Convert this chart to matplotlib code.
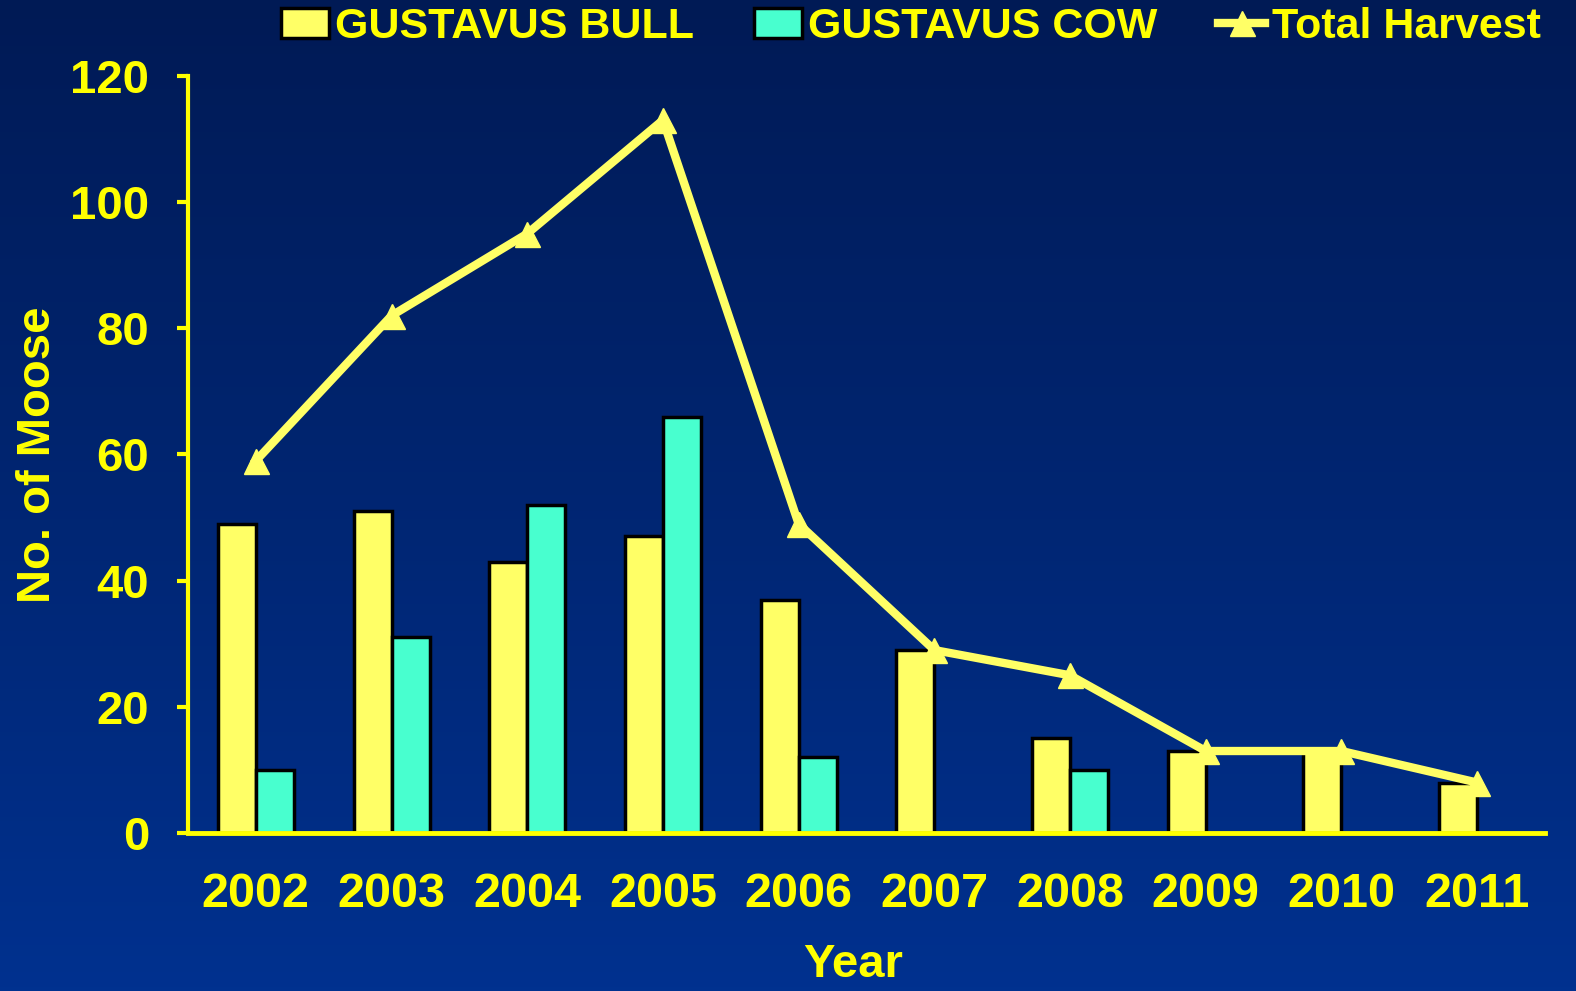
import numpy as np
import matplotlib
matplotlib.use("Agg")
import matplotlib.pyplot as plt
from matplotlib.colors import LinearSegmentedColormap

years = ["2002", "2003", "2004", "2005", "2006", "2007", "2008", "2009", "2010", "2011"]
bull = [49, 51, 43, 47, 37, 29, 15, 13, 13, 8]
cow = [10, 31, 52, 66, 12, 0, 10, 0, 0, 0]
total = [59, 82, 95, 113, 49, 29, 25, 13, 13, 8]

yellow = "#FFFF00"
bull_color = "#FFFF66"
cow_color = "#48FFCF"

plt.rcParams["font.family"] = ["Liberation Sans", "DejaVu Sans"]
plt.rcParams["font.weight"] = "bold"

fig = plt.figure(figsize=(15.76, 9.91), dpi=100)

# gradient background
bg = fig.add_axes([0, 0, 1, 1], zorder=-10)
cmap = LinearSegmentedColormap.from_list("bg", ["#001a55", "#00318f"])
grad = np.linspace(0, 1, 256).reshape(-1, 1)
bg.imshow(grad, aspect="auto", cmap=cmap, extent=[0, 1, 0, 1], origin="upper")
bg.axis("off")

ax = fig.add_axes([0.1193, 0.1594, 0.861, 0.764])
ax.patch.set_alpha(0)

x = np.arange(len(years))
w = 0.28
b1 = ax.bar(x - w / 2, bull, width=w, color=bull_color, edgecolor="black", linewidth=2.5,
            label="GUSTAVUS BULL", zorder=2)
b2 = ax.bar(x + w / 2, cow, width=w, color=cow_color, edgecolor="black", linewidth=2.5,
            label="GUSTAVUS COW", zorder=2)
ln, = ax.plot(x, total, color=bull_color, linewidth=6, marker="^", markersize=18,
              label="Total Harvest", zorder=3)

ax.set_xlim(-0.5, len(years) - 0.5)
ax.set_ylim(0, 120)
ax.set_yticks(range(0, 121, 20))
ax.set_xticks(x)
ax.set_xticklabels(years)

for s in ["top", "right"]:
    ax.spines[s].set_visible(False)
ax.spines["left"].set_color(yellow)
ax.spines["bottom"].set_color(yellow)
ax.spines["left"].set_linewidth(3)
ax.spines["bottom"].set_linewidth(3.5)
ax.spines["bottom"].set_zorder(4)

ax.tick_params(axis="y", colors=yellow, labelsize=34, length=8, width=3, pad=20)
ax.tick_params(axis="x", colors=yellow, labelsize=35, length=0, pad=28)

ax.set_xlabel("Year", color=yellow, fontsize=34, fontweight="bold")
ax.xaxis.set_label_coords(0.49, -0.145)
ax.set_ylabel("No. of Moose", color=yellow, fontsize=34, fontweight="bold", labelpad=7)

fig.legend([b1, b2, ln], ["GUSTAVUS BULL", "GUSTAVUS COW", "Total Harvest"],
           loc="upper center", bbox_to_anchor=(0.578, 1.032), ncol=3, frameon=False,
           fontsize=31, handlelength=1.1, handletextpad=0.15, columnspacing=1.4,
           labelcolor=yellow)

fig.savefig("out.png", dpi=100)
